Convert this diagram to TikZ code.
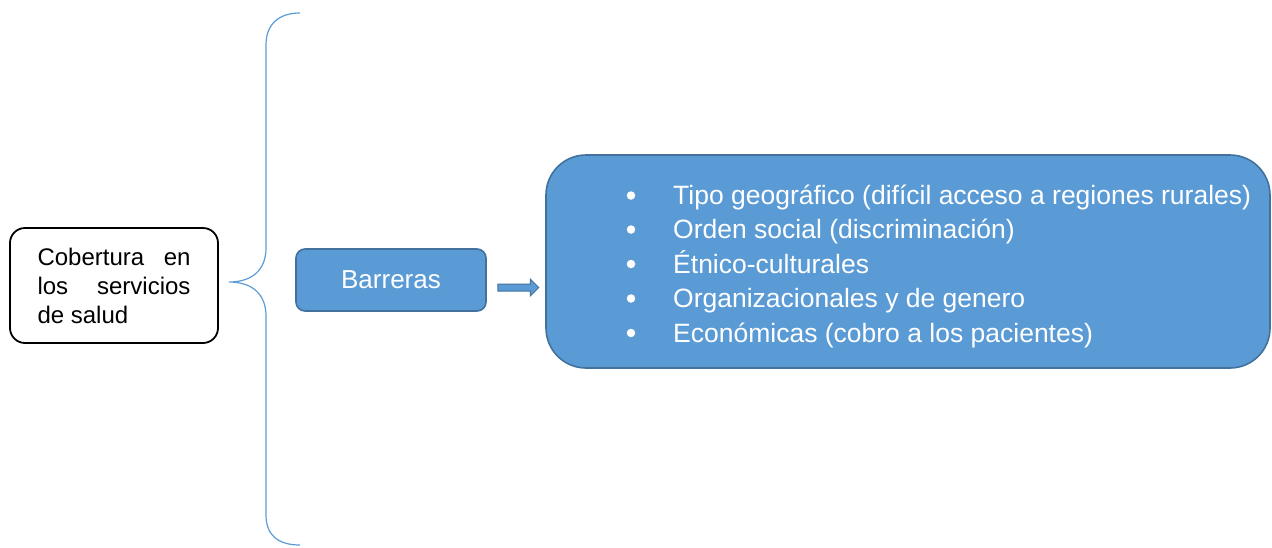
\documentclass[tikz,border=0pt]{standalone}
\usepackage{fontspec}
\setmainfont{Liberation Sans}
\usetikzlibrary{shapes.arrows}
\definecolor{fillc}{HTML}{5B9BD5}
\definecolor{bdr}{HTML}{41719C}
\tikzset{
  bluebox/.style={draw=bdr, fill=fillc, line width=1.6pt, text=white},
  itemtxt/.style={anchor=base west, inner sep=0pt, text=white, font=\fontsize{26.5}{32}\selectfont},
  bul/.style={circle, fill=white, inner sep=0pt, minimum size=8.5pt},
}
\begin{document}
\begin{tikzpicture}[x=1pt,y=-1pt]
\useasboundingbox (0,0) rectangle (1272,547);
% left box
\node[draw=black, line width=1.8pt, rounded corners=15pt, minimum width=208pt, minimum height=115pt,
      text width=153pt, align=justify, inner sep=0pt,
      font=\fontsize{24}{29}\selectfont] (cob) at (114,285.5)
  {\hyphenpenalty=10000 Cobertura en\linebreak los servicios\linebreak de salud};
% brace
\draw[fillc, line width=1.2pt] (300,13) .. controls (279,13) and (266,24) .. (266,45)
  -- (266,248) .. controls (266,270) and (252,282) .. (229,282)
  .. controls (252,282) and (266,294) .. (266,316)
  -- (266,515) .. controls (266,536) and (279,545) .. (300,545);
% Barreras
\node[bluebox, rounded corners=9pt, minimum width=190pt, minimum height=62pt, inner sep=0pt,
      font=\fontsize{26}{30}\selectfont] (bar) at (391,280) {Barreras};
% big box
\node[bluebox, rounded corners=40pt, minimum width=724pt, minimum height=213pt, inner sep=0pt] (big) at (908,261.5) {};
% arrow
\node[single arrow, draw=bdr, fill=fillc, line width=1pt, minimum height=41pt, minimum width=16pt,
      inner sep=3pt, single arrow head extend=5pt, single arrow tip angle=90] (arr) at (516.5,287.5) {};
% items
\node[itemtxt] (i1) at (673,204.5) {Tipo geográfico (difícil acceso a regiones rurales)};
\node[itemtxt] (i2) at (673,238.5) {Orden social (discriminación)};
\node[itemtxt] (i3) at (673,273) {Étnico-culturales};
\node[itemtxt] (i4) at (673,307.5) {Organizacionales y de genero};
\node[itemtxt] (i5) at (673,342) {Económicas (cobro a los pacientes)};
\node[bul] (b1) at (631,195.5) {};
\node[bul] (b2) at (631,229.5) {};
\node[bul] (b3) at (631,264) {};
\node[bul] (b4) at (631,298.5) {};
\node[bul] (b5) at (631,333) {};
\end{tikzpicture}
\end{document}
